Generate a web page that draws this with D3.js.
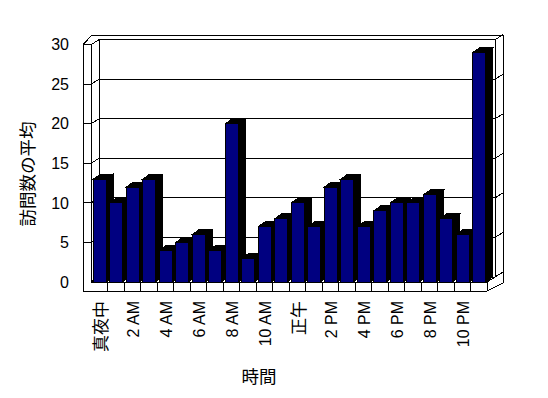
<!DOCTYPE html>
<html>
<head>
<meta charset="utf-8">
<script src="https://cdn.jsdelivr.net/npm/d3@7"></script>
<style>
  body { margin: 0; background: #fff; }
  text { font-family: "Liberation Sans", Arial, "Noto Sans CJK JP", sans-serif; fill: #000; }
</style>
</head>
<body>
<div id="chart"></div>
<script>
// one bar per hour, only every other hour gets a label
var hours = ['真夜中','1 AM','2 AM','3 AM','4 AM','5 AM','6 AM','7 AM','8 AM','9 AM','10 AM','11 AM',
             '正午','1 PM','2 PM','3 PM','4 PM','5 PM','6 PM','7 PM','8 PM','9 PM','10 PM','11 PM'];
var visits = [13, 10, 12, 13, 4, 5, 6, 4, 20, 3, 7, 8, 10, 7, 12, 13, 7, 9, 10, 10, 11, 8, 6, 29];
var yTicks = [0, 5, 10, 15, 20, 25, 30];
var xTitle = '時間';
var yTitle = '訪問数の平均';

var width = 548, height = 398;
var depthX = 8, depthY = 5;      // floor / wall depth offset (front -> back)
var barDX = 7, barDY = 5;        // bar depth offset

var svg = d3.select('#chart').append('svg')
    .attr('width', width)
    .attr('height', height);

// x: front edge of the floor, y: back wall
var x = d3.scaleBand().domain(hours).range([91, 487]);
var y = d3.scaleLinear().domain([0, 30]).range([277, 39.7]);
function yFront(v) { return y(v) + depthY; }

var backL = x.range()[0] + depthX, backR = x.range()[1] + depthX;
var g = svg.append('g').attr('shape-rendering', 'crispEdges')
    .attr('stroke', '#000').attr('fill', 'none');

function line(x1, y1, x2, y2) {
    g.append('line').attr('x1', x1).attr('y1', y1).attr('x2', x2).attr('y2', y2);
}

// back wall gridlines + outer top edge
yTicks.forEach(function(t) {
    if (t > 0) line(backL, y(t), backR, y(t));
    // left wall: tick on front face, then going back
    if (t > 0) line(83, yFront(t), 91, yFront(t));
    line(91, yFront(t), backL, y(t));
    // right end of back wall
    line(backR, y(t), backR + 8, y(t) - 5);
});
line(92, 35, backR + 8, 35);
line(83, yFront(30), 92, 35);
line(83, yFront(30), 91, yFront(30));
line(83, yFront(30), 83, 291);
line(91, yFront(30), 91, 282);
line(backL, y(30), backL, y(0));
line(backR, y(30), backR, y(0));
line(backR + 8, 35, backR + 8, 283);

// floor
line(91, 282, 487, 282);
line(83, 291, 487, 291);
line(487, 282, 487, 291);
line(487, 282, backR, y(0));
line(487, 291, backR + 8, 283);
line(backL, y(0), backR, y(0));
hours.forEach(function(h, i) {
    if (i > 0) line(x(h), 282, x(h), 291);
});

// bars, drawn left to right so each front hides the previous side
var bars = svg.append('g').attr('shape-rendering', 'crispEdges');
hours.forEach(function(h, i) {
    var v = visits[i];
    var x0 = x(h) + 2.3, x1 = x0 + 12.7;
    var top = yFront(v), base = 282;
    var b = bars.append('g');
    b.append('polygon')
        .attr('points', [[x1, base], [x1, top], [x1 + barDX, top - barDY], [x1 + barDX, base - barDY]].join(' '))
        .attr('fill', '#000').attr('stroke', '#000');
    b.append('polygon')
        .attr('points', [[x0, top], [x0 + barDX, top - barDY], [x1 + barDX, top - barDY], [x1, top]].join(' '))
        .attr('fill', '#000').attr('stroke', '#000');
    b.append('rect')
        .attr('x', x0).attr('y', top)
        .attr('width', x1 - x0).attr('height', base - top)
        .attr('fill', '#000080').attr('stroke', '#000');
});

// value labels
svg.append('g').selectAll('text')
    .data(yTicks)
    .enter().append('text')
    .attr('x', 69)
    .attr('y', function(d) { return yFront(d); })
    .attr('dy', '0.35em')
    .attr('text-anchor', 'end')
    .style('font-size', '16px')
    .text(function(d) { return d; });

// hour labels, every second hour (kanji ones a bit bigger, like the original)
svg.append('g').selectAll('text')
    .data(hours.filter(function(d, i) { return i % 2 === 0; }))
    .enter().append('text')
    .attr('transform', function(d) {
        return 'translate(' + (x(d) + x.bandwidth() / 2 + 1.5) + ',301) rotate(-90)';
    })
    .attr('dy', '0.35em')
    .attr('text-anchor', 'end')
    .style('font-size', function(d) { return /[^ -~]/.test(d) ? '17px' : '16px'; })
    .text(function(d) { return d; });

svg.append('text')
    .attr('x', 259).attr('y', 377)
    .attr('dy', '0.35em')
    .attr('text-anchor', 'middle')
    .style('font-size', '17.5px')
    .text(xTitle);

svg.append('text')
    .attr('transform', 'translate(28,174) rotate(-90)')
    .attr('dy', '0.35em')
    .attr('text-anchor', 'middle')
    .style('font-size', '17.5px')
    .text(yTitle);
</script>
</body>
</html>
